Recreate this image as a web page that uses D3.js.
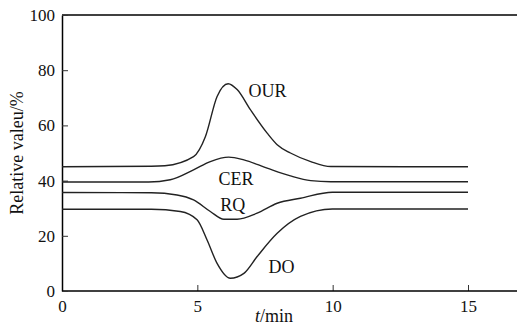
<!DOCTYPE html>
<html>
<head>
<meta charset="utf-8">
<script src="https://cdn.jsdelivr.net/npm/d3@7"></script>
<style>
  body { margin: 0; background: #fff; }
  text { font-family: "Liberation Serif", "DejaVu Serif", serif; fill: #111; }
</style>
</head>
<body>
<div id="chart"></div>
<script>
"use strict";

// values (t in min, relative value in %)
const ourT   = [0, 3.3, 3.8, 4.86, 5.3, 5.73, 6.14, 6.47, 6.96, 7.58, 7.95, 8.44, 9.19, 9.93, 15];
const ourV   = [45, 45.2, 45.4, 48.7, 56, 70.5, 75.1, 73, 65.7, 57.2, 53, 50, 46.9, 45.1, 45];

const cerT   = [0, 3.2, 4.0, 4.86, 5.48, 6.16, 6.72, 7.58, 8.44, 9.19, 9.93, 15];
const cerV   = [39.5, 39.5, 40.3, 43.9, 46.9, 48.5, 47.5, 44.5, 41.7, 40, 39.6, 39.6];

const rqT    = [0, 3.3, 4.25, 4.86, 5.48, 5.98, 6.47, 7.21, 7.95, 8.81, 9.99, 15];
const rqV    = [35.7, 35.6, 34.8, 33, 28.8, 26, 26, 28.2, 31.8, 33.6, 35.8, 35.8];

const doT    = [0, 3.3, 4.37, 4.99, 5.36, 5.73, 6.22, 6.72, 7.21, 7.95, 8.81, 9.99, 15];
const doV    = [29.6, 29.6, 28.8, 25.8, 18.5, 10, 4.6, 6.4, 12.5, 20.9, 27, 29.7, 29.7];

const seriesNames = ["OUR", "CER", "RQ", "DO"];
const xTicks = [0, 5, 10, 15];
const yTicks = [0, 20, 40, 60, 80, 100];

const series = [
    { name: "OUR", t: ourT, v: ourV, label: [6.89, 70.4] },
    { name: "CER", t: cerT, v: cerV, label: [5.78, 38.5] },
    { name: "RQ",  t: rqT,  v: rqV,  label: [5.85, 29] },
    { name: "DO",  t: doT,  v: doV,  label: [7.63, 6.5] }
];

const W = 517, H = 325;
const margin = { top: 15, right: 0, bottom: 34, left: 62 };

const svg = d3.select("#chart").append("svg")
    .attr("width", W)
    .attr("height", H);

const x = d3.scaleLinear()
    .domain([0, 15])
    .range([margin.left, 468]);

const y = d3.scaleLinear()
    .domain([0, 100])
    .range([H - margin.bottom, margin.top]);

// frame: top and bottom run to the right edge, no right border
svg.append("line")
    .attr("x1", margin.left).attr("x2", W)
    .attr("y1", y(100)).attr("y2", y(100))
    .attr("stroke", "#000").attr("stroke-width", 1.5);

const xAxis = svg.append("g")
    .attr("transform", "translate(0," + y(0) + ")")
    .call(d3.axisBottom(x).tickValues(xTicks).tickSizeInner(-6).tickSizeOuter(0).tickPadding(9));
xAxis.select(".domain").remove();
xAxis.append("line")
    .attr("x1", margin.left).attr("x2", W)
    .attr("stroke", "#000").attr("stroke-width", 1.5);

const yAxis = svg.append("g")
    .attr("transform", "translate(" + margin.left + ",0)")
    .call(d3.axisLeft(y).tickValues(yTicks).tickSizeInner(-6).tickSizeOuter(0).tickPadding(7));
yAxis.select(".domain")
    .attr("stroke", "#000").attr("stroke-width", 1.5);

svg.selectAll(".tick line").attr("stroke", "#333");
svg.selectAll(".tick text")
    .attr("font-size", 17)
    .attr("font-family", "Liberation Serif")
    .attr("fill", "#111");

// axis titles
svg.append("text")
    .attr("x", 274)
    .attr("y", 322)
    .attr("text-anchor", "middle")
    .attr("font-size", 18)
    .call(t => {
        t.append("tspan").attr("font-style", "italic").text("t");
        t.append("tspan").text("/min");
    });

svg.append("text")
    .attr("transform", "translate(23," + y(50) + ") rotate(-90)")
    .attr("text-anchor", "middle")
    .attr("font-size", 18)
    .text("Relative valeu/%");

// curves
const line = d3.line()
    .curve(d3.curveMonotoneX)
    .x(d => x(d[0]))
    .y(d => y(d[1]));

svg.selectAll(".curve")
    .data(series)
    .enter().append("path")
    .attr("class", "curve")
    .attr("fill", "none")
    .attr("stroke", "#222")
    .attr("stroke-width", 1.4)
    .attr("d", d => line(d.t.map((t, i) => [t, d.v[i]])));

svg.selectAll(".label")
    .data(series)
    .enter().append("text")
    .attr("class", "label")
    .attr("x", d => x(d.label[0]))
    .attr("y", d => y(d.label[1]))
    .attr("font-size", 18)
    .text((d, i) => seriesNames[i]);
</script>
</body>
</html>
